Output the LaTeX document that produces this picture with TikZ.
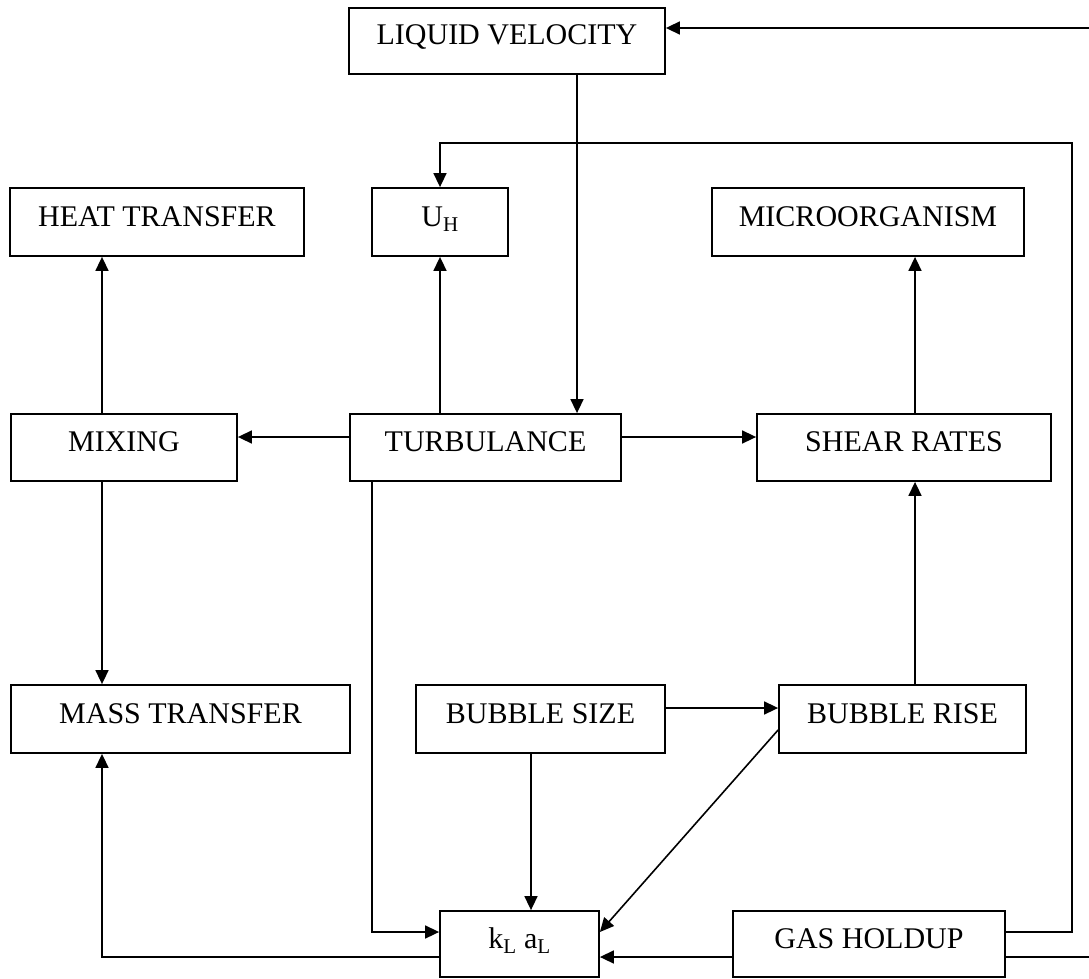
\documentclass[tikz,border=0pt]{standalone}
\usepackage{fontspec}
\setmainfont{Liberation Serif}
\usetikzlibrary{arrows.meta}
\begin{document}
\begin{tikzpicture}[x=1pt,y=-1pt,
  box/.style={draw,line width=1.8pt,rectangle,inner sep=0pt,
    font=\fontsize{30}{36}\selectfont,text height=20pt,text depth=12pt},
  arr/.style={line width=1.6pt,-{Triangle[length=14pt,width=13pt]}},
  ln/.style={line width=1.6pt}]
\useasboundingbox (0,0) rectangle (1089,979);
% nodes
\node[box,minimum width=316pt,minimum height=66pt] (lv) at (507,41) {LIQUID VELOCITY};
\node[box,minimum width=294pt,minimum height=68pt] (ht) at (157,222) {HEAT TRANSFER};
\node[box,minimum width=136pt,minimum height=68pt] (uh) at (440,222) {U\textsubscript{H}};
\node[box,minimum width=312pt,minimum height=68pt] (mo) at (868,222) {MICROORGANISM};
\node[box,minimum width=226pt,minimum height=67pt] (mix) at (124,447.5) {MIXING};
\node[box,minimum width=271pt,minimum height=67pt] (turb) at (485.5,447.5) {TURBULANCE};
\node[box,minimum width=294pt,minimum height=67pt] (shear) at (904,447.5) {SHEAR RATES};
\node[box,minimum width=339pt,minimum height=68pt] (mass) at (180.5,719) {MASS TRANSFER};
\node[box,minimum width=249pt,minimum height=68pt] (bs) at (540.5,719) {BUBBLE SIZE};
\node[box,minimum width=247pt,minimum height=68pt] (br) at (902.5,719) {BUBBLE RISE};
\node[box,minimum width=159pt,minimum height=66pt] (kla) at (519.5,944) {k\textsubscript{L} a\textsubscript{L}};
\node[box,minimum width=272pt,minimum height=66pt] (gh) at (869,944) {GAS HOLDUP};
% helper coordinates
\coordinate (x577) at (577,0);
\coordinate (x440) at (440,0);
\coordinate (x372) at (372,0);
\coordinate (x102) at (102,0);
\coordinate (x915) at (915,0);
\coordinate (x531) at (531,0);
\coordinate (x1072) at (1072,0);
\coordinate (y28) at (0,28);
\coordinate (y143) at (0,143);
\coordinate (y437) at (0,437);
\coordinate (y708) at (0,708);
\coordinate (y730) at (0,730);
\coordinate (y932) at (0,932);
\coordinate (y957) at (0,957);
\coordinate (topin) at (1089,28);
\coordinate (botout) at (1089,957);
% connectors
\draw[arr] (x577 |- lv.south) -- (x577 |- turb.north);
\draw[arr] (topin) -- (lv.east |- topin);
\draw[ln] (gh.east |- botout) -- (botout);
\draw[arr] (gh.east |- y932) -- (x1072 |- y932) -- (x1072 |- y143) -- (x440 |- y143) -- (uh.north);
\draw[arr] (x440 |- turb.north) -- (uh.south);
\draw[arr] (turb.west |- y437) -- (mix.east |- y437);
\draw[arr] (turb.east |- y437) -- (shear.west |- y437);
\draw[arr] (x102 |- mix.north) -- (x102 |- ht.south);
\draw[arr] (x102 |- mix.south) -- (x102 |- mass.north);
\draw[arr] (x915 |- shear.north) -- (x915 |- mo.south);
\draw[arr] (x915 |- br.north) -- (x915 |- shear.south);
\draw[arr] (bs.east |- y708) -- (br.west |- y708);
\draw[arr] (x531 |- bs.south) -- (x531 |- kla.north);
\draw[arr] (br.west |- y730) -- (kla.east |- y932);
\draw[arr] (x372 |- turb.south) -- (x372 |- y932) -- (kla.west |- y932);
\draw[arr] (kla.west |- y957) -- (x102 |- y957) -- (x102 |- mass.south);
\draw[arr] (gh.west |- y957) -- (kla.east |- y957);
\end{tikzpicture}
\end{document}
